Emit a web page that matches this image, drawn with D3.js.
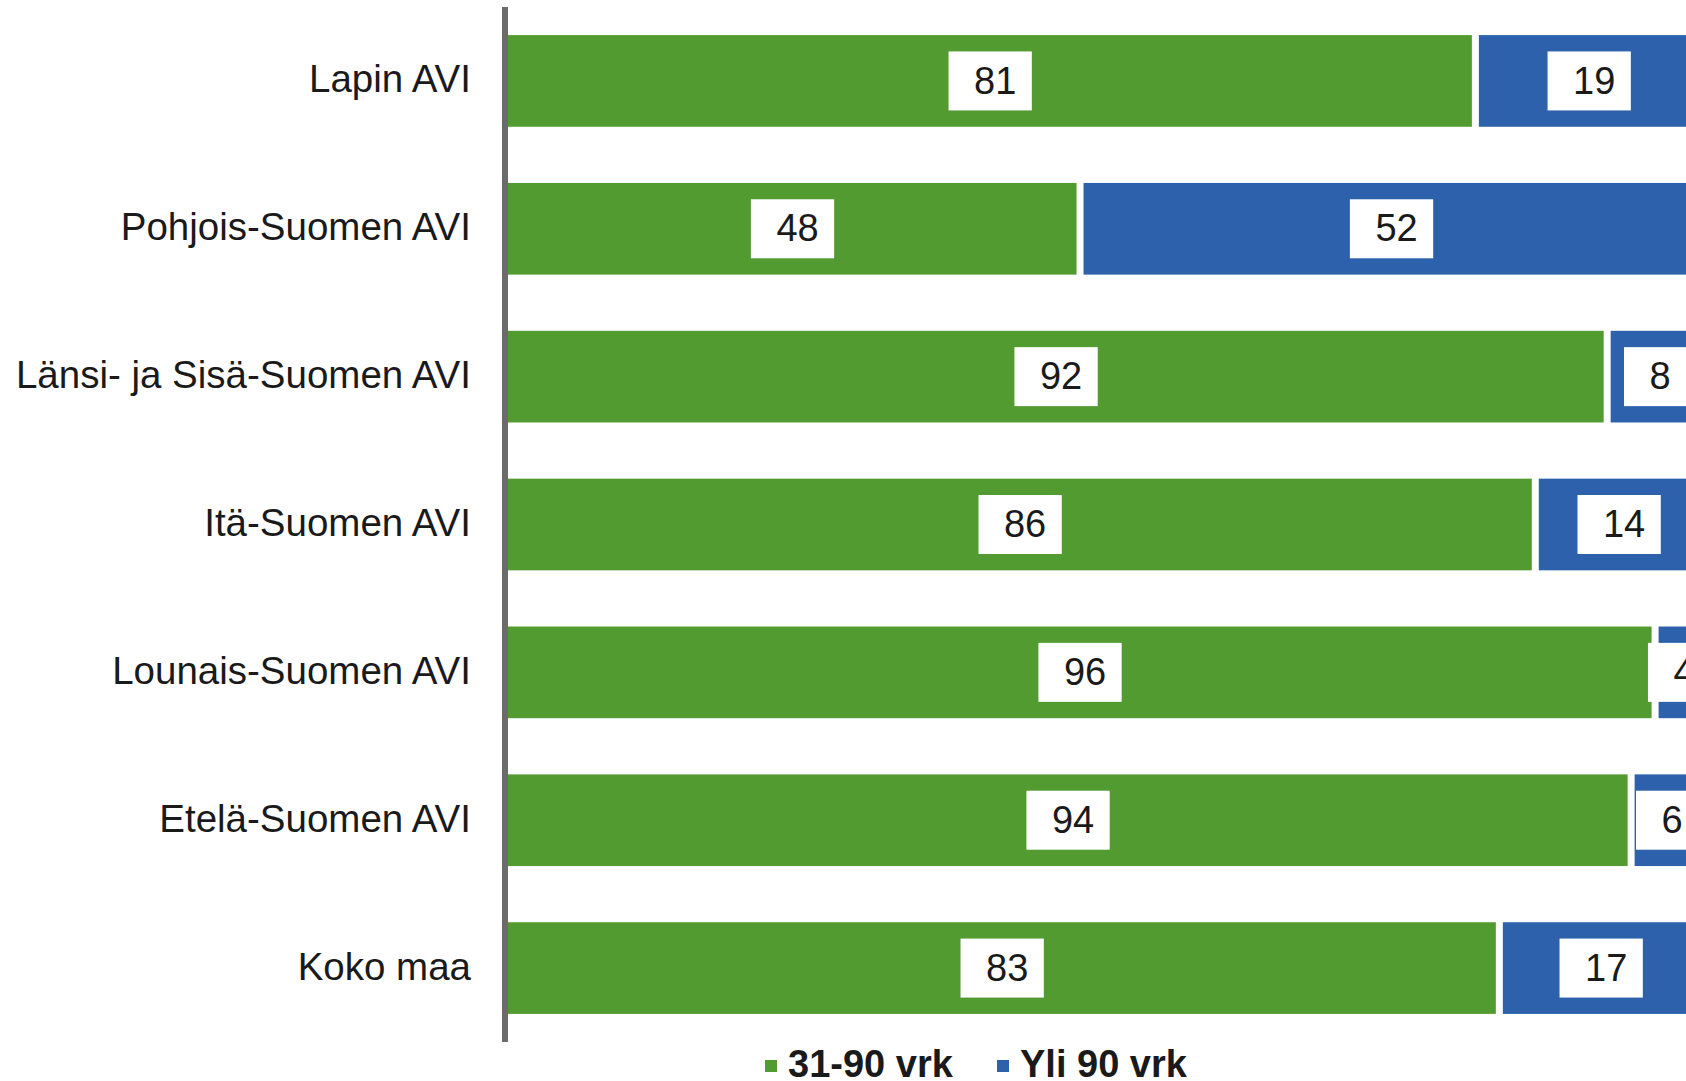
<!DOCTYPE html>
<html>
<head>
<meta charset="utf-8">
<script src="https://cdn.jsdelivr.net/npm/d3@7"></script>
<style>
  body { margin: 0; background: #fff; overflow: hidden; }
  text { font-family: "Liberation Sans", Arial, sans-serif; }
</style>
</head>
<body>
<script>
const w = 1686; // width
const h = 1081; // height

// data
const regions = ["Lapin AVI", "Pohjois-Suomen AVI", "Länsi- ja Sisä-Suomen AVI",
    "Itä-Suomen AVI", "Lounais-Suomen AVI", "Etelä-Suomen AVI", "Koko maa"];
const short = [81, 48, 92, 86, 96, 94, 83];   // 31-90 vrk
const long = [19, 52, 8, 14, 4, 6, 17];       // Yli 90 vrk
const seriesNames = ["31-90 vrk", "Yli 90 vrk"];
const colors = ["#529b31", "#2e61ab"];

const rows = regions.map((r, i) => ({ region: r, vals: [short[i], long[i]] }));

let svg = d3.select("body")
    .append("svg")
    .attr('width', w)
    .attr('height', h);

// scales
let x = d3.scaleLinear()
    .domain([0, 100])
    .range([505, 1703]);

let y = d3.scaleBand()
    .domain(regions)
    .range([7, 1042])
    .paddingInner(0.38)
    .paddingOuter(0.19);

const gap = 3.5;

// bars
let rowG = svg.selectAll('g.row')
    .data(rows)
    .enter()
    .append('g')
    .attr('class', 'row')
    .attr('transform', (d) => `translate(0,${y(d.region)})`);

rowG.each(function (d) {
    let g = d3.select(this);
    let start = 0;
    d.vals.forEach((v, k) => {
        let x0 = x(start) + (start === 0 ? 3 : gap);
        let x1 = x(start + v) - gap;
        g.append('rect')
            .attr('x', x0)
            .attr('y', 0)
            .attr('width', Math.max(0, x1 - x0))
            .attr('height', y.bandwidth())
            .attr('fill', colors[k]);
        start += v;
    });
});

// value labels with white boxes (text sits a bit right of box centre, like the original)
rowG.each(function (d) {
    let g = d3.select(this);
    let start = 0;
    d.vals.forEach((v) => {
        let cx = x(start + v / 2);
        let lbl = g.append('g');
        let t = lbl.append('text')
            .attr('x', cx + 5)
            .attr('y', y.bandwidth() / 2 - 1)
            .attr('dy', '0.36em')
            .attr('text-anchor', 'middle')
            .attr('font-size', 38)
            .attr('fill', '#1a1a1a')
            .text(v);
        let bw = t.node().getComputedTextLength() + 41;
        lbl.insert('rect', 'text')
            .attr('x', cx - bw / 2)
            .attr('y', y.bandwidth() / 2 - 29.5)
            .attr('width', bw)
            .attr('height', 59)
            .attr('fill', '#fff');
        start += v;
    });
});

// category labels
svg.selectAll('text.cat')
    .data(regions)
    .enter()
    .append('text')
    .attr('class', 'cat')
    .attr('x', 471)
    .attr('y', (d) => y(d) + y.bandwidth() / 2 - 2)
    .attr('dy', '0.35em')
    .attr('text-anchor', 'end')
    .attr('font-size', 38.5)
    .attr('fill', '#1a1a1a')
    .text((d) => d);

// vertical axis line
svg.append('line')
    .attr('x1', x(0))
    .attr('x2', x(0))
    .attr('y1', 7)
    .attr('y2', 1042)
    .attr('stroke', '#6b6b6b')
    .attr('stroke-width', 6);

// legend
const legendX = [765, 997];
let leg = svg.selectAll('g.legend')
    .data(seriesNames)
    .enter()
    .append('g')
    .attr('class', 'legend')
    .attr('transform', (d, i) => `translate(${legendX[i]},1060)`);

leg.append('rect')
    .attr('width', 12)
    .attr('height', 12)
    .attr('fill', (d, i) => colors[i]);

leg.append('text')
    .attr('x', 23)
    .attr('y', 17)
    .attr('font-size', 38)
    .attr('font-weight', 'bold')
    .attr('fill', '#1a1a1a')
    .text((d) => d);
</script>
</body>
</html>
